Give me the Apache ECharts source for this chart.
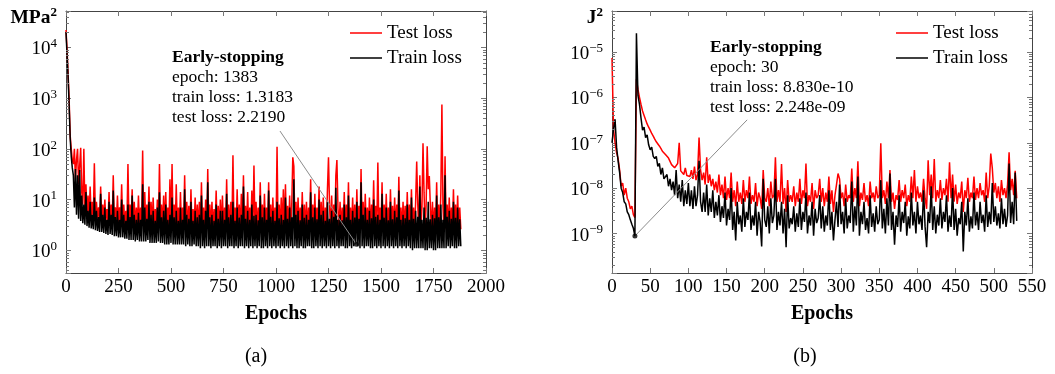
<!DOCTYPE html>
<html>
<head>
<meta charset="utf-8">
<script src="https://cdn.jsdelivr.net/npm/echarts@6/dist/echarts.min.js"></script>
<style>
html,body{margin:0;padding:0;background:#fff;}
#chart{width:1055px;height:374px;}
</style>
</head>
<body>
<div id="chart"></div>
<script>
// ---------------- DATA ----------------
const seriesNames = ['Test loss', 'Train loss'];
const xTitle = 'Epochs';
const unitA = 'MPa', unitB = 'J';
const captionA = '(a)', captionB = '(b)';

// Panel (a): sampled every 5 epochs, starting at epoch 0
const epochStartA = 0, epochStepA = 5;
const testLossA = [
  22000, 9000, 3000, 900, 180, 100, 60, 50,
  100, 25, 60, 100, 20, 45, 105, 14, 8, 100, 6, 20, 5, 12, 4.5, 18, 4.5, 9, 4.2, 52,
  4.5, 9, 4.2, 7, 4, 18, 4, 8, 3.8, 10, 3.8, 6.5, 3.6, 14, 3.6, 8, 3.5, 30, 3.5, 7,
  3.5, 12, 3.4, 7, 3.4, 20, 3.3, 8, 3.3, 6, 3.2, 50, 3.2, 8, 3.1, 16, 3.1, 9, 3, 7,
  3, 12, 3, 7, 3, 93, 3, 14, 3, 8, 3.1, 18, 2.9, 9, 2.9, 11, 2.8, 6.5, 2.8, 10,
  3, 50, 2.9, 8, 2.9, 12, 2.8, 14, 2.8, 7, 2.8, 25, 2.8, 50, 2.8, 8, 2.8, 20, 2.7, 7,
  2.8, 14, 2.7, 7, 2.7, 30, 2.7, 9, 2.7, 7.5, 2.6, 16, 2.6, 6.5, 2.7, 11, 2.6, 8, 2.6, 9,
  2.6, 22, 2.6, 7, 2.5, 10, 2.6, 40, 2.6, 8, 2.5, 9, 2.6, 6.5, 2.6, 15, 2.5, 7.5, 2.6, 10,
  2.5, 12, 2.6, 7, 2.6, 25, 2.5, 8, 2.5, 9, 2.6, 75, 2.5, 7, 2.6, 16, 2.5, 8, 2.5, 13,
  2.6, 30, 2.5, 7.5, 2.6, 14, 2.5, 7, 2.6, 15, 2.5, 47, 2.6, 9, 2.5, 7, 2.6, 22, 2.5, 8,
  2.5, 13, 2.6, 7, 2.5, 22, 2.6, 8, 2.5, 11, 2.6, 7, 2.5, 110, 2.6, 8, 2.5, 11, 2.6, 16,
  2.5, 20, 2.6, 7.5, 2.5, 12, 2.6, 8, 68, 45, 2.5, 9, 2.5, 11, 2.6, 7, 2.5, 14, 2.6, 8,
  2.5, 9, 2.6, 7, 2.6, 25, 2.5, 8, 2.5, 13, 2.6, 7, 2.5, 18, 2.6, 9, 2.5, 11, 2.6, 7,
  2.5, 16, 68, 7.5, 2.5, 12, 2.6, 8, 2.5, 30, 60, 7, 2.5, 9, 2.6, 7, 2.6, 14, 2.5, 8,
  2.5, 22, 2.6, 7, 2.5, 11, 2.6, 8, 2.2, 16, 2.6, 7.5, 2.5, 40, 2.6, 9, 2.5, 13, 2.6, 7,
  2.6, 11, 2.5, 8, 2.5, 24, 2.6, 7.5, 2.5, 54, 2.6, 7, 2.5, 22, 2.6, 8, 2.5, 13, 2.6, 7,
  2.5, 16, 2.6, 7.5, 2.5, 11, 2.6, 8, 2.5, 28, 2.6, 7, 2.5, 9, 2.6, 7.5, 2.5, 14, 2.6, 8,
  2.5, 16, 2.4, 7, 2.5, 9, 56, 8, 2.5, 30, 2.5, 7, 128, 14, 2.4, 8, 112, 16, 29, 7.5,
  2.5, 9, 2.4, 7, 2.5, 22, 2.5, 8, 2.5, 14, 750, 7.5, 2.5, 71, 2.6, 8, 2.6, 11, 2.5, 7,
  2.6, 16, 2.5, 8, 2.6, 12, 2.5, 7, 2.6
];
const trainLossA = [
  20000, 7000, 2600, 700, 160, 70, 42, 30,
  7, 40, 5, 30, 4.2, 38, 3.8, 12, 3.4, 8, 3.2, 14, 3, 6, 2.8, 9, 2.7, 5, 2.6, 11,
  2.5, 6, 2.4, 4.5, 2.3, 13, 2.3, 5, 2.2, 7, 2.1, 4, 2.0, 9, 2.1, 5, 2.0, 15, 1.9, 4.5,
  1.9, 6, 1.8, 4, 1.8, 10, 1.8, 5, 1.7, 3.8, 1.7, 8, 1.6, 4.5, 1.6, 12, 1.6, 5, 1.5, 4,
  1.6, 5.5, 1.5, 4, 1.5, 20, 1.5, 7, 1.5, 4.2, 1.6, 9, 1.4, 5, 1.4, 6, 1.4, 3.8, 1.4, 7,
  1.5, 14, 1.4, 4.5, 1.4, 6, 1.3, 8, 1.3, 4, 1.3, 5, 1.4, 11, 1.3, 4.5, 1.3, 6, 1.3, 3.8,
  1.3, 7, 1.3, 4, 1.3, 16, 1.2, 5, 1.3, 4.2, 1.2, 9, 1.2, 3.8, 1.3, 6, 1.2, 4.5, 1.2, 5,
  1.1, 12, 1.2, 4, 1.1, 6, 1.2, 22, 1.2, 4.5, 1.1, 5, 1.2, 3.8, 1.2, 8, 1.1, 4.2, 1.2, 6,
  1.1, 6, 1.2, 4, 1.2, 13, 1.1, 4.5, 1.2, 5, 1.2, 9, 1.1, 3.8, 1.2, 7, 1.1, 4.4, 1.2, 5,
  1.2, 18, 1.1, 4.2, 1.2, 6, 1.1, 4, 1.2, 8, 1.1, 4.8, 1.2, 5, 1.1, 3.9, 1.2, 12, 1.1, 4.5,
  1.1, 7, 1.2, 4, 1.1, 15, 1.2, 4.6, 1.1, 6, 1.2, 3.8, 1.1, 9, 1.2, 4.3, 1.1, 5, 1.2, 4,
  1.1, 11, 1.2, 4.2, 1.1, 7, 1.2, 4.5, 1.1, 25, 1.2, 5, 1.1, 6, 1.1, 3.9, 1.2, 8, 1.1, 4.4,
  1.1, 5, 1.2, 4, 1.2, 14, 1.1, 4.5, 1.1, 7, 1.2, 4.1, 1.1, 10, 1.2, 5, 1.1, 6, 1.2, 3.8,
  1.1, 9, 1.2, 4.2, 1.1, 6, 1.2, 4.6, 1.1, 17, 1.2, 4, 1.1, 5, 1.2, 3.9, 1.2, 8, 1.1, 4.5,
  1.1, 12, 1.2, 4, 1.1, 6, 1.2, 4.4, 1.32, 9, 1.2, 4.2, 1.1, 22, 1.2, 5, 1.1, 7, 1.2, 4,
  1.2, 6, 1.1, 4.3, 1.1, 10, 1.2, 4.6, 1.1, 5, 1.2, 4, 1.1, 13, 1.2, 4.4, 1.1, 7, 1.2, 3.9,
  1.1, 9, 1.2, 4.1, 1.1, 6, 1.2, 4.5, 1.1, 15, 1.2, 4, 1.1, 5, 1.2, 4.3, 1.1, 8, 1.2, 4,
  1.1, 11, 1.0, 4.2, 1.1, 6, 1.1, 4.6, 1.1, 18, 1.1, 4, 1.1, 7, 1.0, 4.4, 1.0, 9, 1.1, 4.1,
  1.1, 5, 1.0, 4.3, 1.0, 12, 1.1, 4.5, 1.1, 8, 1.1, 4, 1.1, 30, 1.1, 4.6, 1.2, 6, 1.1, 4.2,
  1.2, 9, 1.1, 4.4, 1.1, 7, 1.2, 4.1, 1.2
];

// Panel (b): sampled every 2 epochs, starting at epoch 0
const epochStartB = 0, epochStepB = 2;
const testLossB = [
  7.4e-6, 2e-7, 1e-7, 6e-8, 4.5e-8, 2.5e-8, 1.1e-8, 1.3e-8, 7e-9, 1e-8,
  6e-9, 5e-9, 3.5e-9, 4e-9, 2.6e-9, 2.248e-9, 2.5e-6, 1.5e-6, 1e-6, 7e-7,
  5e-7, 4e-7, 3.2e-7, 2.6e-7, 2.2e-7, 1.9e-7, 1.6e-7, 1.4e-7, 1.2e-7, 1.05e-7,
  9.5e-8, 8.5e-8, 7.5e-8, 6.5e-8, 6e-8, 5.5e-8, 5e-8, 4.6e-8, 4.2e-8, 3.3e-8,
  3e-8, 2.8e-8, 2.6e-8, 3.5e-8, 1e-7, 2.4e-8, 2.2e-8, 2e-8, 2.8e-8, 1.9e-8,
  2.1e-8, 1.8e-8, 2.5e-8, 1.6e-8, 3e-8, 1.5e-8, 2e-8, 1.3e-7, 2.5e-8, 1.5e-8,
  2.2e-8, 1.2e-8, 4.8e-8, 1.3e-8, 2e-8, 1.1e-8, 1.6e-8, 9e-9, 1.4e-8, 8e-9,
  2e-8, 7e-9, 1.2e-8, 6e-9, 1.8e-8, 5.5e-9, 1e-8, 6e-9, 2.2e-8, 5e-9,
  9e-9, 4e-9, 1.4e-8, 5e-9, 8e-9, 4.5e-9, 1.5e-8, 5e-9, 9e-9, 6e-9,
  1.8e-8, 4.5e-9, 7e-9, 5e-9, 1.3e-8, 4e-9, 8e-9, 6e-9, 3.5e-9, 2.5e-8,
  6e-9, 5e-9, 1e-8, 4e-9, 1.4e-8, 6e-9, 7e-9, 4.8e-8, 5e-9, 9e-9,
  5e-9, 3.4e-8, 4.5e-9, 1e-8, 3e-9, 1.5e-8, 5e-9, 7e-9, 5e-9, 1.1e-8,
  4e-9, 8e-9, 5e-9, 1.6e-8, 4.5e-9, 9e-9, 6e-9, 3.5e-8, 4e-9, 7e-9,
  5e-9, 1.3e-8, 3.5e-9, 9e-9, 6e-9, 7e-9, 1.6e-8, 5e-9, 1e-8, 4e-9,
  8e-9, 5e-9, 1.8e-8, 4.5e-9, 9e-9, 3e-9, 7e-9, 1.2e-8, 2.1e-8, 1.6e-8,
  6e-9, 8e-9, 4e-9, 1.2e-8, 5e-9, 7e-9, 6e-9, 2.7e-8, 5e-9, 1e-8,
  6e-9, 3.9e-8, 4e-9, 8e-9, 5.5e-9, 1.3e-8, 5e-9, 7e-9, 4e-9, 1.4e-8,
  6e-9, 8e-9, 5e-9, 1.1e-8, 6e-9, 7e-9, 9.8e-8, 6e-9, 9e-9, 4.5e-9,
  1.4e-8, 6e-9, 2.5e-8, 5e-9, 8e-9, 3.5e-9, 7e-9, 5.5e-9, 1.5e-8, 5e-9,
  9e-9, 6e-9, 1.2e-8, 4e-9, 7e-9, 5e-9, 1.8e-8, 6e-9, 2.5e-8, 5e-9,
  1.1e-8, 6e-9, 8e-9, 5e-9, 1.6e-8, 6e-9, 3.5e-9, 4.1e-8, 7e-9, 2e-8,
  6e-9, 4.4e-8, 5e-9, 9e-9, 6e-9, 1.5e-8, 5.5e-9, 1e-8, 7e-9, 1.6e-8,
  5e-9, 3.7e-8, 6e-9, 2e-8, 5e-9, 1.2e-8, 4.5e-9, 8e-9, 6e-9, 1.4e-8,
  3e-9, 9e-9, 6e-9, 1.7e-8, 5e-9, 8e-9, 6e-9, 1.8e-8, 5.5e-9, 1e-8,
  6e-9, 1.3e-8, 7e-9, 9e-9, 5e-9, 2.2e-8, 6e-9, 1.1e-8, 5.8e-8, 2.8e-8,
  8e-9, 1.3e-8, 6e-9, 1.1e-8, 5e-9, 1.5e-8, 7e-9, 1e-8, 6e-9, 1.2e-8,
  6.2e-8, 9e-9, 1.6e-8, 7e-9, 2.4e-8, 6e-9
];
const trainLossB = [
  1e-7, 2e-7, 3.3e-7, 8e-8, 4e-8, 2.2e-8, 1e-8, 8e-9, 5e-9, 4.5e-9,
  3e-9, 2.6e-9, 2e-9, 1.6e-9, 1.3e-9, 8.83e-10, 2.6e-5, 1.1e-6, 7e-7, 3.5e-7,
  1.9e-7, 2.2e-7, 1.3e-7, 1.5e-7, 9e-8, 7e-8, 8e-8, 5e-8, 4.5e-8, 5e-8,
  3e-8, 3.5e-8, 2e-8, 2.8e-8, 1.6e-8, 1.5e-8, 2e-8, 1.1e-8, 1.6e-8, 9e-9,
  1.4e-8, 7e-9, 2.5e-8, 6e-9, 1.2e-8, 5e-9, 1.5e-8, 4e-9, 9e-9, 4.5e-9,
  1.3e-8, 4e-9, 9e-9, 3.5e-9, 1.1e-8, 4e-9, 7e-9, 4e-8, 5e-9, 3e-9,
  8e-9, 3e-9, 1.2e-8, 2.5e-9, 6e-9, 3e-9, 9e-9, 2.2e-9, 5e-9, 2.5e-9,
  7e-9, 1.8e-9, 4e-9, 2.2e-9, 8e-9, 1.5e-9, 3.5e-9, 2e-9, 1e-8, 1.2e-9,
  3e-9, 7e-10, 5e-9, 1.6e-9, 2.5e-9, 1.1e-9, 6e-9, 1.4e-9, 3e-9, 2e-9,
  8e-9, 1.2e-9, 2.5e-9, 1.5e-9, 5e-9, 9e-10, 3e-9, 1.8e-9, 5.2e-10, 1.6e-8,
  2e-9, 1.4e-9, 4e-9, 1e-9, 6e-9, 1.7e-9, 2.5e-9, 1.6e-8, 1.2e-9, 3e-9,
  1.5e-9, 5e-9, 1e-9, 3.5e-9, 5e-10, 7e-9, 1.3e-9, 2.2e-9, 1.6e-9, 4e-9,
  1.1e-9, 2.8e-9, 1.4e-9, 6e-9, 1.2e-9, 3e-9, 1.8e-9, 8e-9, 1e-9, 2.5e-9,
  1.5e-9, 5e-9, 9e-10, 3.5e-9, 1.7e-9, 2.2e-9, 7e-9, 1.3e-9, 4e-9, 1.1e-9,
  2.5e-9, 1.5e-9, 9e-9, 1.2e-9, 3e-9, 7e-10, 2e-9, 5e-9, 1.4e-9, 1.2e-8,
  1.6e-9, 3e-9, 1e-9, 6e-9, 1.3e-9, 2.5e-9, 1.7e-9, 1.4e-8, 1.1e-9, 4e-9,
  1.5e-9, 1.8e-8, 9e-10, 3e-9, 1.6e-9, 5e-9, 1.2e-9, 2.2e-9, 1e-9, 7e-9,
  1.4e-9, 2.8e-9, 1.1e-9, 4e-9, 1.6e-9, 2e-9, 1.5e-8, 1.3e-9, 3.5e-9, 1e-9,
  6e-9, 1.5e-9, 2.1e-8, 1.2e-9, 3e-9, 5.7e-10, 2.5e-9, 1.4e-9, 7e-9, 1.1e-9,
  3e-9, 1.7e-9, 5e-9, 9e-10, 2.4e-9, 1.3e-9, 8e-9, 1.5e-9, 3e-9, 1e-9,
  5e-9, 1.6e-9, 2.5e-9, 1.2e-9, 9e-9, 1.4e-9, 5e-10, 3e-9, 1.7e-9, 1.1e-8,
  1.2e-9, 4e-9, 1e-9, 2.6e-9, 1.5e-9, 6e-9, 1.3e-9, 3e-9, 1.8e-9, 7e-9,
  1.1e-9, 2.5e-9, 1.4e-9, 1e-8, 1.2e-9, 3.5e-9, 9e-10, 2.2e-9, 1.6e-9, 5e-9,
  4e-10, 3e-9, 1.5e-9, 6e-9, 1.1e-9, 2.4e-9, 1.3e-9, 8e-9, 1.5e-9, 3e-9,
  1.2e-9, 5e-9, 1.7e-9, 2.6e-9, 1.1e-9, 7e-9, 1.4e-9, 3e-9, 1.6e-9, 1.3e-8,
  1.8e-9, 4e-9, 1.5e-9, 2.8e-9, 1.3e-9, 6e-9, 1.6e-9, 3.5e-9, 1.4e-9, 2.5e-9,
  3.5e-8, 1.7e-9, 5e-9, 1.6e-9, 2.2e-8, 1.9e-9
];

// Early-stopping annotations
const esEpochA = 1383, esTrainA = 1.3183, esTestA = 2.2190;
const esEpochB = 30, esTrainB = 8.830e-10, esTestB = 2.248e-09;
// leader line start (data coords, near the annotation text)
const leaderA = [1019, 224];
const leaderB = [177, 3.2e-7];

// Axis ranges
const xMinA = 0, xMaxA = 2000, xStepA = 250;
const xMinB = 0, xMaxB = 550, xStepB = 50;
const yMinA = 0.357, yMaxA = 5.2e4;
const yMinB = 1.35e-10, yMaxB = 8e-5;

// ---------------- STYLE ----------------
const FONT = '"Liberation Serif", "DejaVu Serif", serif';
const AXIS_COLOR = '#444';
const TICK_COLOR = '#777';
const RED = '#ff0000', BLACK = '#000000';
const LINE_W = 1.5;

function pairs(start, step, vals) {
  return vals.map((v, i) => [start + step * i, v]);
}
function sci(v) {
  return v.toExponential(3).replace(/e([+-])(\d+)$/, (m, s, d) => 'e' + s + (d.length < 2 ? '0' + d : d));
}
function logLabel(v) {
  const e = Math.log10(v);
  const r = Math.round(e);
  if (Math.abs(e - r) > 1e-6) return '';
  return '{b|10}{s|' + (r < 0 ? '\u2212' + (-r) : r) + '}';
}
function minorValues(min, max) {
  const out = [];
  for (let d = Math.floor(Math.log10(min)); d <= Math.ceil(Math.log10(max)); d++) {
    for (let m = 2; m <= 9; m++) {
      const v = m * Math.pow(10, d);
      if (v > min && v < max) out.push(v);
    }
  }
  return out;
}

function xAx(gi, pos, min, max, step, main) {
  return {
    type: 'value', gridIndex: gi, position: pos, min: min, max: max, interval: step,
    name: main ? xTitle : '', nameLocation: 'middle', nameGap: 31,
    nameTextStyle: {fontFamily: FONT, fontSize: 20, fontWeight: 'bold', color: '#000'},
    axisLine: {show: true, onZero: false, lineStyle: {color: AXIS_COLOR, width: 1}},
    axisTick: {show: true, inside: true, length: 5, lineStyle: {color: TICK_COLOR, width: 1}},
    axisLabel: {show: main, margin: 5, fontFamily: FONT, fontSize: 19, color: '#000',
      showMinLabel: true, showMaxLabel: true, formatter: function (v) { return String(v); }},
    splitLine: {show: false}
  };
}
function yAx(gi, pos, min, max, main) {
  return {
    type: 'log', logBase: 10, gridIndex: gi, position: pos, min: min, max: max,
    axisLine: {show: true, onZero: false, lineStyle: {color: AXIS_COLOR, width: 1}},
    axisTick: {show: true, inside: true, length: 5, lineStyle: {color: TICK_COLOR, width: 1}},
    axisLabel: {
      show: main, margin: 9, formatter: logLabel, padding: [4, 0, 0, 0],
      rich: {
        b: {fontFamily: FONT, fontSize: 19, color: '#000', lineHeight: 24},
        s: {fontFamily: FONT, fontSize: 13, color: '#000', verticalAlign: 'top'}
      }
    },
    splitLine: {show: false},
    minorTick: {show: false}
  };
}
function minorTickSeries(xi, yi, min, max, xMin) {
  return {
    type: 'custom', xAxisIndex: xi, yAxisIndex: yi, silent: true, z: 5,
    data: minorValues(min, max).map(v => [xMin, v]),
    renderItem: function (params, api) {
      const cs = params.coordSys;
      const p = api.coord([api.value(0), api.value(1)]);
      const y = Math.round(p[1]) + 0.5;
      const st = {stroke: TICK_COLOR, lineWidth: 1};
      return {type: 'group', children: [
        {type: 'line', shape: {x1: cs.x, y1: y, x2: cs.x + 3, y2: y}, style: st},
        {type: 'line', shape: {x1: cs.x + cs.width - 3, y1: y, x2: cs.x + cs.width, y2: y}, style: st}
      ]};
    }
  };
}
function lossLine(name, color, xi, yi, data, z) {
  return {
    name: name, type: 'line', xAxisIndex: xi, yAxisIndex: yi, data: data,
    symbol: 'none', showSymbol: false, z: z,
    lineStyle: {color: color, width: LINE_W}, itemStyle: {color: color}
  };
}
function esSeries(xi, yi, epoch, train, leader) {
  return {
    name: 'early-stop', type: 'scatter', xAxisIndex: xi, yAxisIndex: yi, z: 6,
    data: [[epoch, train]], symbol: 'circle', symbolSize: 5,
    itemStyle: {color: '#000'},
    markLine: {
      silent: true, symbol: 'none', label: {show: false},
      lineStyle: {color: '#8c8c8c', width: 1, type: 'solid'},
      data: [[{coord: leader}, {coord: [epoch, train]}]]
    }
  };
}
function legendAt(left) {
  return {
    data: seriesNames, orient: 'vertical', left: left, top: 23.5, padding: 0,
    icon: 'rect', itemGap: 6, itemWidth: 32, itemHeight: 1.5, selectedMode: false,
    textStyle: {fontFamily: FONT, fontSize: 19, color: '#000', lineHeight: 19}
  };
}
function annot(x, yTop, lines) {
  return {
    type: 'text', x: x, y: yTop, silent: true,
    style: {
      text: lines, fontFamily: FONT, fontSize: 17.5, lineHeight: 20, fill: '#000',
      align: 'left', verticalAlign: 'top',
      rich: {h: {fontFamily: FONT, fontSize: 17.5, fontWeight: 'bold', lineHeight: 20, fill: '#000'}}
    }
  };
}
function unitText(xRight, yMid, unit) {
  return {
    type: 'text', x: xRight, y: yMid, silent: true,
    style: {
      text: '{b|' + unit + '}{s|2}', align: 'right', verticalAlign: 'middle', fill: '#000',
      rich: {
        b: {fontFamily: FONT, fontSize: 19.5, fontWeight: 'bold', lineHeight: 24, fill: '#000'},
        s: {fontFamily: FONT, fontSize: 13, fontWeight: 'bold', verticalAlign: 'top', fill: '#000'}
      }
    }
  };
}
function caption(x, y, t) {
  return {
    type: 'text', x: x, y: y, silent: true,
    style: {text: t, fontFamily: FONT, fontSize: 20, fill: '#000', align: 'center', verticalAlign: 'middle'}
  };
}

const annA = '{h|Early-stopping}\nepoch: ' + esEpochA + '\ntrain loss: ' + esTrainA.toFixed(4) + '\ntest loss: ' + esTestA.toFixed(4);
const annB = '{h|Early-stopping}\nepoch: ' + esEpochB + '\ntrain loss: ' + sci(esTrainB) + '\ntest loss: ' + sci(esTestB);

const option = {
  animation: false,
  backgroundColor: '#ffffff',
  grid: [
    {left: 66, top: 11, width: 420, height: 262, outerBoundsMode: 'none'},
    {left: 612, top: 11, width: 420, height: 262, outerBoundsMode: 'none'}
  ],
  xAxis: [
    xAx(0, 'bottom', xMinA, xMaxA, xStepA, true),
    xAx(0, 'top', xMinA, xMaxA, xStepA, false),
    xAx(1, 'bottom', xMinB, xMaxB, xStepB, true),
    xAx(1, 'top', xMinB, xMaxB, xStepB, false)
  ],
  yAxis: [
    yAx(0, 'left', yMinA, yMaxA, true),
    yAx(0, 'right', yMinA, yMaxA, false),
    yAx(1, 'left', yMinB, yMaxB, true),
    yAx(1, 'right', yMinB, yMaxB, false)
  ],
  legend: [legendAt(350), legendAt(896)],
  graphic: [
    unitText(57, 18, unitA),
    unitText(603, 18, unitB),
    annot(172, 47, annA),
    annot(710, 37, annB),
    caption(256, 357, captionA),
    caption(805, 357, captionB)
  ],
  series: [
    lossLine(seriesNames[0], RED, 0, 0, pairs(epochStartA, epochStepA, testLossA), 2),
    lossLine(seriesNames[1], BLACK, 0, 0, pairs(epochStartA, epochStepA, trainLossA), 3),
    esSeries(0, 0, esEpochA, esTrainA, leaderA),
    minorTickSeries(0, 0, yMinA, yMaxA, xMinA),
    lossLine(seriesNames[0], RED, 2, 2, pairs(epochStartB, epochStepB, testLossB), 2),
    lossLine(seriesNames[1], BLACK, 2, 2, pairs(epochStartB, epochStepB, trainLossB), 3),
    esSeries(2, 2, esEpochB, esTrainB, leaderB),
    minorTickSeries(2, 2, yMinB, yMaxB, xMinB)
  ]
};

const chart = echarts.init(document.getElementById('chart'), null, {renderer: 'canvas'});
chart.setOption(option);
</script>
</body>
</html>
